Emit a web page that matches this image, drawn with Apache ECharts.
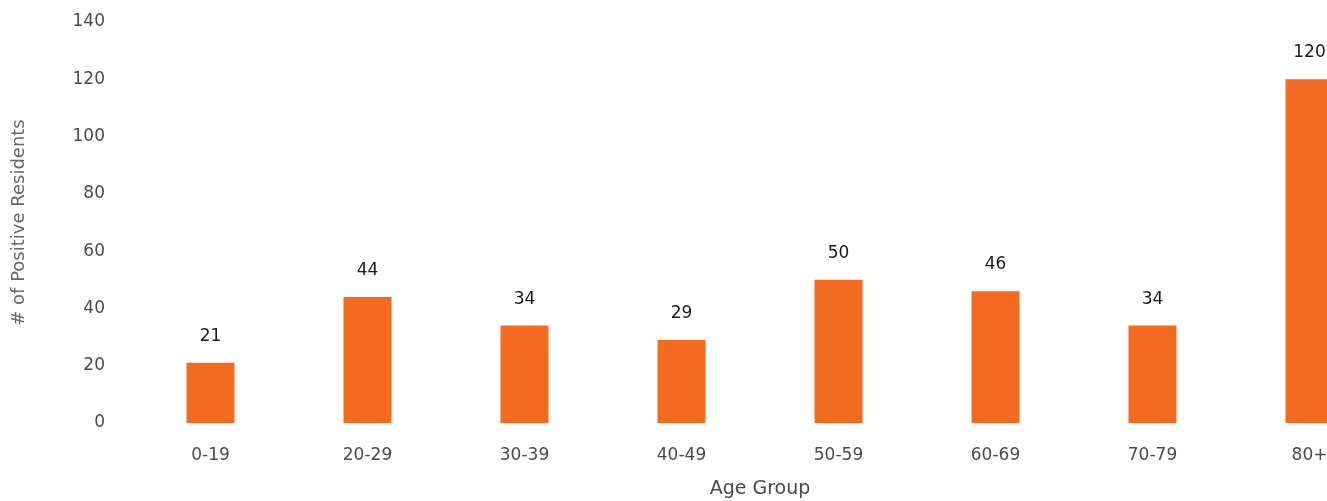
<!DOCTYPE html>
<html>
<head>
<meta charset="utf-8">
<script src="https://cdn.jsdelivr.net/npm/echarts@6/dist/echarts.min.js"></script>
<style>html,body{margin:0;padding:0;background:#fff;}#c{width:1327px;height:501px;}</style>
</head>
<body>
<div id="c"></div>
<script>
const categories = ['0-19','20-29','30-39','40-49','50-59','60-69','70-79','80+'];
const values = [21, 44, 34, 29, 50, 46, 34, 120];
const yTicks = [0, 20, 40, 60, 80, 100, 120, 140];

const chart = echarts.init(document.getElementById('c'));
chart.setOption({
  animation: false,
  backgroundColor: '#ffffff',
  textStyle: { fontFamily: '"DejaVu Sans", sans-serif' },
  grid: { left: 132, top: 22, right: -61, height: 401, containLabel: false, outerBoundsMode: 'none' },
  xAxis: {
    type: 'category',
    data: categories,
    name: 'Age Group',
    nameLocation: 'middle',
    nameGap: 57,
    nameTextStyle: { fontSize: 19, color: '#4a4a4a' },
    axisLine: { show: false },
    axisTick: { show: false },
    axisLabel: { margin: 24, fontSize: 17, color: '#4a4a4a' }
  },
  yAxis: {
    type: 'value',
    min: yTicks[0],
    max: yTicks[yTicks.length - 1],
    interval: 20,
    name: '# of Positive Residents',
    nameLocation: 'middle',
    nameGap: 104,
    nameTextStyle: { fontSize: 18, color: '#666' },
    axisLine: { show: false },
    axisTick: { show: false },
    splitLine: { show: false },
    axisLabel: { margin: 27, fontSize: 17, color: '#4a4a4a' }
  },
  series: [{
    type: 'bar',
    data: values,
    barWidth: 48,
    itemStyle: { color: '#F36A21' },
    label: { show: true, position: 'top', distance: 18, fontSize: 17, color: '#1a1a1a' }
  }]
});
</script>
</body>
</html>
